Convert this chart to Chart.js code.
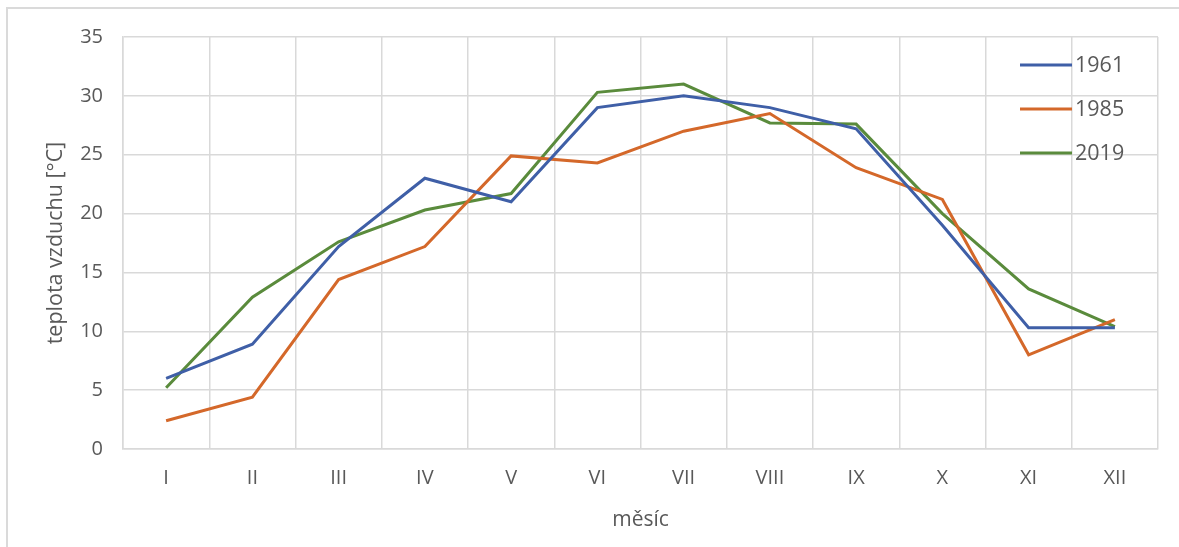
<!DOCTYPE html>
<html>
<head>
<meta charset="utf-8">
<script src="https://cdn.jsdelivr.net/npm/chart.js@4/dist/chart.umd.min.js"></script>
<style>
  html, body { margin: 0; padding: 0; background: #fff; overflow: hidden; }
  #frame { position: absolute; left: 6px; top: 7px; width: 1300px; height: 700px; border: 2px solid #dadada; }
  #wrap { position: absolute; left: 0; top: 0; width: 1179px; height: 547px; }
</style>
</head>
<body>
<div id="frame"></div>
<div id="wrap"><canvas id="chart"></canvas></div>
<script>
// months and monthly air temperatures
const months = ['I', 'II', 'III', 'IV', 'V', 'VI', 'VII', 'VIII', 'IX', 'X', 'XI', 'XII'];
const temps1961 = [6.0, 8.9, 17.2, 23.0, 21.0, 29.0, 30.0, 29.0, 27.2, 19.0, 10.3, 10.3];
const temps1985 = [2.4, 4.4, 14.4, 17.2, 24.9, 24.3, 27.0, 28.5, 23.9, 21.2, 8.0, 11.0];
const temps2019 = [5.2, 12.9, 17.6, 20.3, 21.7, 30.3, 31.0, 27.7, 27.6, 20.0, 13.6, 10.4];
const yTicks = [0, 5, 10, 15, 20, 25, 30, 35];

const textColor = '#595959';
const gridColor = '#d9d9d9';
const fontFamily = '"Open Sans", "Liberation Sans", sans-serif';

// simple legend drawn inside the plot area, top right
const insideLegend = {
  id: 'insideLegend',
  afterDraw(chart) {
    const ctx = chart.ctx;
    const area = chart.chartArea;
    ctx.save();
    ctx.font = '21.5px ' + fontFamily;
    ctx.textBaseline = 'middle';
    ctx.textAlign = 'left';
    chart.data.datasets.forEach((ds, i) => {
      const y = area.top + 28 + i * 44;
      const x0 = area.right - 138;
      ctx.strokeStyle = ds.borderColor;
      ctx.lineWidth = 3;
      ctx.beginPath();
      ctx.moveTo(x0, y);
      ctx.lineTo(x0 + 52, y);
      ctx.stroke();
      ctx.fillStyle = textColor;
      ctx.fillText(ds.label, x0 + 55, y + 1);
    });
    ctx.restore();
  }
};

const ctx = document.getElementById('chart').getContext('2d');
new Chart(ctx, {
  type: 'line',
  data: {
    labels: months,
    datasets: [
      { label: '1961', data: temps1961, borderColor: '#3F5FA7', borderWidth: 3 },
      { label: '1985', data: temps1985, borderColor: '#D4682A', borderWidth: 3 },
      { label: '2019', data: temps2019, borderColor: '#5A8B3C', borderWidth: 3 }
    ]
  },
  options: {
    responsive: true,
    maintainAspectRatio: false,
    animation: false,
    elements: { point: { radius: 0, hoverRadius: 0 }, line: { tension: 0 } },
    layout: { padding: { top: 37, right: 21, left: 0, bottom: 0 } },
    plugins: { legend: { display: false }, tooltip: { enabled: false } },
    scales: {
      x: {
        offset: true,
        grid: { offset: true, color: gridColor, lineWidth: 1.5, drawTicks: false },
        border: { color: gridColor, width: 1.5 },
        ticks: { color: textColor, font: { family: fontFamily, size: 20 }, padding: 17, maxRotation: 0 },
        title: { display: true, text: 'měsíc', color: textColor, font: { family: fontFamily, size: 21 }, padding: { bottom: 14 } },
        afterFit(scale) { scale.height = 98; }
      },
      y: {
        min: 0,
        max: 35,
        afterBuildTicks(scale) { scale.ticks = yTicks.map(v => ({ value: v })); },
        grid: { color: gridColor, lineWidth: 1.5, drawTicks: false },
        border: { color: gridColor, width: 1.5 },
        ticks: { color: textColor, font: { family: fontFamily, size: 20 }, padding: 20 },
        title: { display: true, text: 'teplota vzduchu [°C]', color: textColor, font: { family: fontFamily, size: 21.5 }, padding: { top: 43 } },
        afterFit(scale) { scale.width = 123; }
      }
    }
  },
  plugins: [insideLegend]
});
</script>
</body>
</html>
